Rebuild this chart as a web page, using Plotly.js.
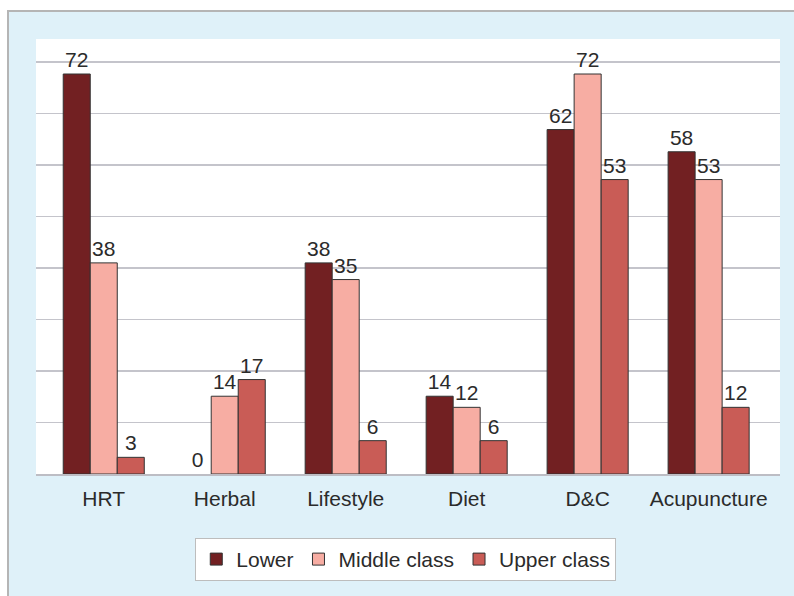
<!DOCTYPE html>
<html>
<head>
<meta charset="utf-8">
<script src="https://cdn.plot.ly/plotly-3.0.1.min.js"></script>
<style>
  html, body { margin: 0; padding: 0; background: #ffffff; }
  #frame { position: absolute; left: 7px; top: 10px; width: 800px; height: 600px;
           background: #dff1f9; border-left: 2px solid #b5b5b5; border-top: 2px solid #b5b5b5; }
  #chart { position: absolute; left: 0; top: 0; width: 794px; height: 596px; }
</style>
</head>
<body>
<div id="frame"></div>
<div id="chart"></div>
<script>
const categories = ["HRT", "Herbal", "Lifestyle", "Diet", "D&C", "Acupuncture"];
const seriesNames = ["Lower", "Middle class", "Upper class"];
const lowerValues = [72, 0, 38, 14, 62, 58];
const middleValues = [38, 14, 35, 12, 72, 53];
const upperValues = [3, 17, 6, 6, 53, 12];
const colors = ["#722022", "#f7ada3", "#c95c56"];

const allValues = [lowerValues, middleValues, upperValues];
const font = { family: "Liberation Sans, Arial, sans-serif", size: 21, color: "#2b2b2b" };

const traces = allValues.map((vals, i) => ({
  type: "bar",
  name: seriesNames[i],
  x: categories,
  y: vals,
  text: vals.map(String),
  textposition: "outside",
  constraintext: "none",
  cliponaxis: false,
  textfont: font,
  marker: { color: colors[i], line: { color: "#333333", width: vals.map(v => (v === 0 ? 0 : 1)) } },
  hoverinfo: "x+y+name"
}));

const layout = {
  width: 794,
  height: 596,
  margin: { l: 36, r: 14, t: 39, b: 122 },
  paper_bgcolor: "rgba(0,0,0,0)",
  plot_bgcolor: "#ffffff",
  barmode: "group",
  bargap: 0.33,
  bargroupgap: 0,
  font: font,
  showlegend: true,
  legend: {
    orientation: "h",
    x: 0.497, xanchor: "center",
    y: -0.147, yanchor: "top",
    bgcolor: "#ffffff",
    bordercolor: "#bdbdbd",
    borderwidth: 1,
    font: font,
    traceorder: "normal"
  },
  xaxis: {
    type: "category",
    range: [-0.56, 5.59],
    showline: true,
    linecolor: "#bdbdc4",
    linewidth: 2,
    showgrid: false,
    ticks: "",
    ticklabelstandoff: 5,
    tickfont: font,
    fixedrange: true
  },
  yaxis: {
    range: [0, 78.3],
    dtick: 9.27,
    tick0: 0,
    showgrid: true,
    gridcolor: "#c4c4cb",
    gridwidth: 1.5,
    showticklabels: false,
    ticks: "",
    zeroline: false,
    showline: false,
    fixedrange: true
  }
};

Plotly.newPlot("chart", traces, layout, { displayModeBar: false, staticPlot: true });
</script>
</body>
</html>
